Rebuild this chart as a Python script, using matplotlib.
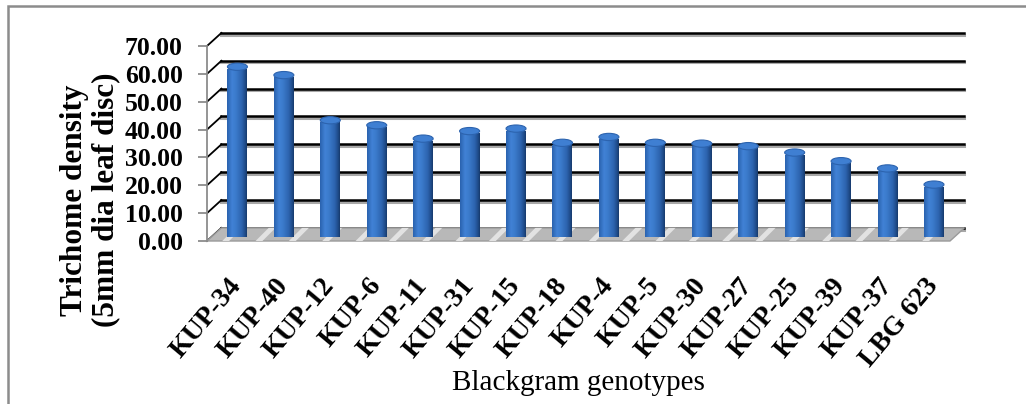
import matplotlib
matplotlib.use('Agg')
import matplotlib.pyplot as plt
import numpy as np
from matplotlib.patches import Polygon, Rectangle, Ellipse
from matplotlib.colors import LinearSegmentedColormap

# data
genotypes = ['KUP-34', 'KUP-40', 'KUP-12', 'KUP-6', 'KUP-11', 'KUP-31', 'KUP-15', 'KUP-18',
             'KUP-4', 'KUP-5', 'KUP-30', 'KUP-27', 'KUP-25', 'KUP-39', 'KUP-37', 'LBG 623']
density = [60.2, 57.2, 41.0, 39.2, 34.4, 37.1, 38.0, 32.9,
           35.0, 32.9, 32.6, 31.7, 29.4, 26.3, 23.7, 17.9]
yticks = [0, 10, 20, 30, 40, 50, 60, 70]

plt.rcParams['font.family'] = ['Liberation Serif', 'DejaVu Serif']
plt.rcParams['hatch.linewidth'] = 3.5

fig = plt.figure(figsize=(10.26, 4.04), dpi=100)
ax = fig.add_axes([207 / 1026, 163 / 404, 743 / 1026, 195 / 404])

n = len(genotypes)
x = np.arange(n)
dx, dy = 0.31, 4.7   # depth of the fake 3d box (data units)
bw = 0.43
caph = 2.6

ax.set_xlim(-0.5, n - 0.5)
ax.set_ylim(0, 70)

# back wall gridlines + left wall slants
for v in yticks:
    ax.plot([-0.5 + dx, n - 0.5 + dx], [v + dy - 0.6] * 2, color='#a8a8a8', lw=2.2,
             clip_on=False, zorder=1)
    ax.plot([-0.5 + dx, n - 0.5 + dx], [v + dy] * 2, color='black', lw=1.8,
             clip_on=False, zorder=1.1)
    ax.plot([-0.5, -0.5 + dx], [v, v + dy], color='black', lw=1.3, clip_on=False, zorder=1.1)

# floor
floor = [(-0.5, 0), (n - 0.5, 0), (n - 0.5 + dx, dy), (-0.5 + dx, dy)]
ax.add_patch(Polygon(floor, closed=True, facecolor='#b8b8b8', edgecolor='#9a9a9a', lw=1,
                     clip_on=False, zorder=2))
ax.add_patch(Polygon(floor, closed=True, facecolor='none', edgecolor='#e2e2e2', lw=0,
                     hatch='/', clip_on=False, zorder=2.1))

# cylinders
cmap = LinearSegmentedColormap.from_list('cyl', [(0, '#2a62ae'), (0.25, '#4182d6'),
                                                (0.45, '#3b7acb'), (0.75, '#2c63ae'),
                                                (0.92, '#1e4a87'), (1, '#173a6c')])
grad = np.linspace(0, 1, 64).reshape(1, -1)
bars = ax.bar(x + dx / 2, density, bw, bottom=dy / 2 - 0.8, color='#2f6cb8', lw=0, zorder=3)
for b, v in zip(bars, density):
    x0 = b.get_x()
    im = ax.imshow(grad, cmap=cmap, aspect='auto', extent=[x0, x0 + bw, dy / 2 - 0.8, v + dy / 2],
                   zorder=3.5, interpolation='bilinear')
    im.set_clip_path(b)
    ax.add_patch(Ellipse((x0 + bw / 2, v + dy / 2), bw, caph, facecolor='#3f7fd2',
                         edgecolor='#2c63ae', lw=0.8, zorder=4, clip_on=False))
ax.set_xlim(-0.5, n - 0.5)
ax.set_ylim(0, 70)

# axes styling
for s in ['top', 'right', 'bottom']:
    ax.spines[s].set_visible(False)
ax.spines['left'].set_color('#8c8c8c')
ax.spines['left'].set_linewidth(1.3)

ax.set_yticks(yticks, labels=[f'{v:.2f}' for v in yticks], fontweight='bold', fontsize=18.5)
ax.tick_params(axis='y', length=6.5, width=1.3, color='#8c8c8c', pad=11)

ax.set_xticks(x + dx / 2, labels=genotypes, rotation=50, ha='right', va='center',
              rotation_mode='anchor', fontweight='bold', fontsize=20)
ax.tick_params(axis='x', length=0, pad=29)

ax.set_xlabel('Blackgram genotypes', fontsize=21)
ax.xaxis.set_label_coords(0.5, -0.728)
ax.xaxis.label.set_va('center')

ax.set_ylabel('Trichome density\n(5mm dia leaf disc)', fontweight='bold', fontsize=22.5,
              linespacing=1.1)
ax.yaxis.set_label_coords(-0.1575, 0.21)
ax.yaxis.label.set_va('center')
ax.yaxis.label.set_ha('center')

# outer chart frame
fig.add_artist(Rectangle((8 / 1026, -0.05), 1.1, 1 - 6 / 404 + 0.05, transform=fig.transFigure,
                         fill=False, edgecolor='#8c8c8c', lw=1.8))

fig.savefig('out.png', dpi=100)
